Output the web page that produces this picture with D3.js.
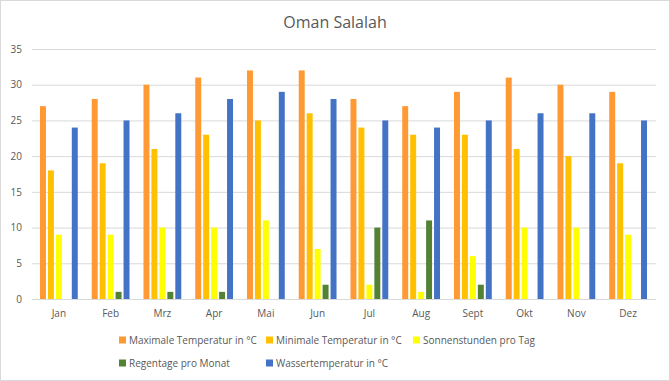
<!DOCTYPE html>
<html><head><meta charset="utf-8">
<script src="https://cdn.jsdelivr.net/npm/d3@7"></script>
<style>body{margin:0;background:#fff}svg{display:block;font-family:"Open Sans",sans-serif}</style>
</head><body><svg id="c" width="670" height="381"></svg>
<script>
const months = ["Jan","Feb","Mrz","Apr","Mai","Jun","Jul","Aug","Sept","Okt","Nov","Dez"];
const seriesNames = ["Maximale Temperatur in °C","Minimale Temperatur in °C","Sonnenstunden pro Tag","Regentage pro Monat","Wassertemperatur in °C"];
const maxTemp = [27,28,30,31,32,32,28,27,29,31,30,29];
const minTemp = [18,19,21,23,25,26,24,23,23,21,20,19];
const sunHours = [9,9,10,10,11,7,2,1,6,10,10,9];
const rainDays = [0,1,1,1,0,2,10,11,2,0,0,0];
const waterTemp = [24,25,26,28,29,28,25,24,25,26,26,25];
const yTicks = [0,5,10,15,20,25,30,35];
const colors = ["#FF9933","#FFC000","#FFFF00","#548235","#4472C4"];
const series = [maxTemp,minTemp,sunHours,rainDays,waterTemp];

const svg = d3.select("#c");
svg.append("rect").attr("x",0.5).attr("y",0.5).attr("width",669).attr("height",380)
  .attr("fill","#fff").attr("stroke","#d9d9d9");

const m = {l:32, r:656, t:49, b:299};
const x = d3.scaleBand().domain(months).range([m.l+1,m.r-2]).paddingInner(0.27).paddingOuter(0.135);
const xi = d3.scaleBand().domain(d3.range(5)).range([0,x.bandwidth()]).paddingInner(0.25);
const y = d3.scaleLinear().domain([0,35]).range([m.b,m.t]);

svg.append("text").attr("x",335).attr("y",28).attr("text-anchor","middle")
  .attr("font-size",16).attr("fill","#595959").text("Oman Salalah");

const yAxis = d3.axisLeft(y).tickValues(yTicks).tickSize(m.l-m.r).tickPadding(10);
const gy = svg.append("g").attr("transform",`translate(${m.l},0)`).call(yAxis);
gy.select(".domain").remove();
gy.selectAll(".tick line").attr("stroke","#d9d9d9").attr("stroke-width",1);
gy.selectAll(".tick text").attr("fill","#595959").attr("font-size",10).attr("font-family","Open Sans");

const gb = svg.append("g");
series.forEach((vals,si)=>{
  gb.selectAll(null).data(vals).enter().append("rect")
    .attr("x",(d,i)=>x(months[i])+xi(si))
    .attr("y",d=>y(d)).attr("width",xi.bandwidth())
    .attr("height",d=>y(0)-y(d)).attr("fill",colors[si]);
});

const xAxis = d3.axisBottom(x).tickSize(0).tickPadding(11);
const gx = svg.append("g").attr("transform",`translate(0,${m.b})`).call(xAxis);
gx.select(".domain").remove();
svg.append("line").attr("x1",m.l).attr("x2",m.r).attr("y1",m.b+0.5).attr("y2",m.b+0.5).attr("stroke","#d9d9d9");
gx.selectAll(".tick text").attr("fill","#595959").attr("font-size",10).attr("font-family","Open Sans");

const lg = svg.append("g");
const colW = 147, lx0 = 119;
seriesNames.forEach((n,i)=>{
  const col = i%3, row = Math.floor(i/3);
  const g = lg.append("g").attr("transform",`translate(${lx0+col*colW},${340+row*23})`);
  g.append("rect").attr("x",0).attr("y",-3.5).attr("width",7).attr("height",7).attr("fill",colors[i]);
  g.append("text").attr("x",10).attr("y",0).attr("dy","0.35em").attr("font-size",10)
    .attr("fill","#595959").text(n);
});
</script></body></html>
